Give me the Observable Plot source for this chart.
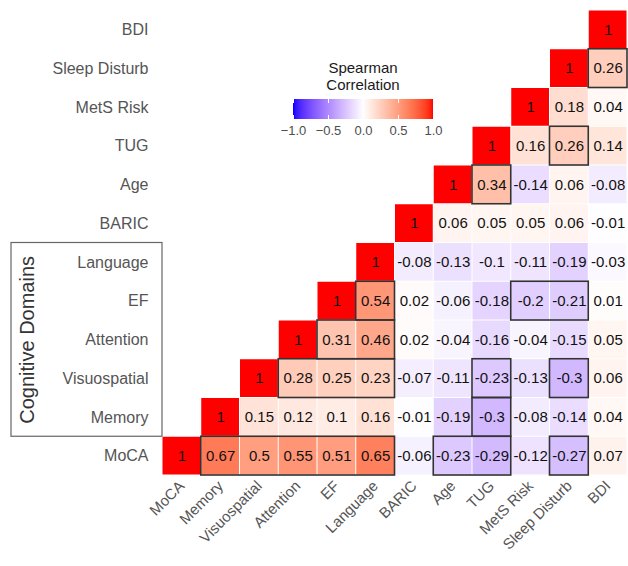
<!DOCTYPE html>
<html><head><meta charset="utf-8">
<script src="https://cdn.jsdelivr.net/npm/d3@7"></script>
<script src="https://cdn.jsdelivr.net/npm/@observablehq/plot@0.6"></script>
<style>
body{margin:0;background:#fff;}
#wrap{position:relative;width:628px;height:566px;font-family:"Liberation Sans",Arial,sans-serif;}
#ttl{position:absolute;left:263px;top:59px;width:200px;text-align:center;font-size:15px;line-height:17px;color:#1a1a1a;}
#lgbox{position:absolute;left:293px;top:99px;}
#lgbox svg text{font-size:13px;fill:#4d4d4d;font-family:"Liberation Sans",Arial,sans-serif;}
#lgbox svg .tick line{stroke:#fff;stroke-dasharray:4 12 4 100;}
</style></head><body>
<div id="wrap"><div id="ttl">Spearman<br>Correlation</div><div id="lgbox"></div></div>
<script>
const vars = ["MoCA","Memory","Visuospatial","Attention","EF","Language","BARIC","Age","TUG","MetS Risk","Sleep Disturb","BDI"];
// each row: correlations from the diagonal cell rightwards
const rowMoCA = [1,0.67,0.5,0.55,0.51,0.65,-0.06,-0.23,-0.29,-0.12,-0.27,0.07];
const rowMemory = [1,0.15,0.12,0.1,0.16,-0.01,-0.19,-0.3,-0.08,-0.14,0.04];
const rowVisuospatial = [1,0.28,0.25,0.23,-0.07,-0.11,-0.23,-0.13,-0.3,0.06];
const rowAttention = [1,0.31,0.46,0.02,-0.04,-0.16,-0.04,-0.15,0.05];
const rowEF = [1,0.54,0.02,-0.06,-0.18,-0.2,-0.21,0.01];
const rowLanguage = [1,-0.08,-0.13,-0.1,-0.11,-0.19,-0.03];
const rowBARIC = [1,0.06,0.05,0.05,0.06,-0.01];
const rowAge = [1,0.34,-0.14,0.06,-0.08];
const rowTUG = [1,0.16,0.26,0.14];
const rowMetS = [1,0.18,0.04];
const rowSleep = [1,0.26];
const rowBDI = [1];
// significant blocks: [row variable, first column, last column]
const sigBoxes = [
 ["MoCA","Memory","Language"],["MoCA","Age","TUG"],["MoCA","Sleep Disturb","Sleep Disturb"],
 ["Memory","TUG","TUG"],
 ["Visuospatial","Attention","Language"],["Visuospatial","TUG","TUG"],["Visuospatial","Sleep Disturb","Sleep Disturb"],
 ["Attention","EF","Language"],
 ["EF","Language","Language"],["EF","MetS Risk","Sleep Disturb"],
 ["Age","TUG","TUG"],["TUG","Sleep Disturb","Sleep Disturb"],["Sleep Disturb","BDI","BDI"]
];
const cognitiveDomains = ["Memory","Visuospatial","Attention","EF","Language"];
const groupLabel = "Cognitive Domains";
const legendTicks = [-1,-0.5,0,0.5,1];

const allRows = [rowMoCA,rowMemory,rowVisuospatial,rowAttention,rowEF,rowLanguage,rowBARIC,rowAge,rowTUG,rowMetS,rowSleep,rowBDI];
const cells = [];
allRows.forEach((row, r) => row.forEach((v, k) => cells.push({r, c: r + k, v})));
const idx = name => vars.indexOf(name);
const boxes = sigBoxes.map(([row, a, b]) => ({r: idx(row), c1: idx(a), c2: idx(b) + 1}));
const cogIdx = cognitiveDomains.map(idx);
const group = [{y1: d3.min(cogIdx), y2: d3.max(cogIdx) + 1, label: groupLabel}];
const font = '"Liberation Sans",Arial,sans-serif';
const ticks = vars.map((_, i) => i + 0.5);

const plot = Plot.plot({
  width: 628, height: 566,
  marginTop: 10, marginLeft: 162, marginRight: 1, marginBottom: 91,
  style: {fontFamily: font, background: "transparent", overflow: "visible"},
  x: {domain: [0, 12], axis: null},
  y: {domain: [0, 12], axis: null},
  color: {type: "linear", domain: [-1, 0, 1], range: ["blue", "white", "red"], interpolate: "lab"},
  marks: [
    Plot.rect(cells, {x1: "c", x2: d => d.c + 1, y1: "r", y2: d => d.r + 1, fill: "v", inset: 0.5}),
    Plot.text(cells, {x: d => d.c + 0.5, y: d => d.r + 0.5, text: d => String(d.v), fontSize: 15, fill: "#111"}),
    Plot.rect(boxes, {x1: "c1", x2: "c2", y1: "r", y2: d => d.r + 1, fill: "none", stroke: "#333", strokeWidth: 1.6}),
    Plot.axisX({ticks, tickFormat: t => vars[Math.floor(t)], tickSize: 0, tickPadding: 8, tickRotate: -45, fontSize: 15, color: "#555", label: null}),
    Plot.axisY({ticks, tickFormat: t => vars[Math.floor(t)], tickSize: 0, tickPadding: 14, fontSize: 16, color: "#555", label: null}),
    Plot.rect(group, {x1: 0, x2: 0, y1: "y1", y2: "y2", insetLeft: -151, fill: "none", stroke: "#666", strokeWidth: 1.2}),
    Plot.text(group, {x: 0, y: d => (d.y1 + d.y2) / 2, text: "label", rotate: -90, dx: -135, fontSize: 20, fill: "#333"})
  ]
});
const wrap = document.getElementById("wrap");
wrap.insertBefore(plot, wrap.firstChild);

const lg = plot.legend("color", {
  width: 140, height: 38, marginTop: 0, marginBottom: 18, marginLeft: 0, marginRight: 0,
  ticks: legendTicks, tickFormat: d3.format(".1f"), tickSize: 4, label: null
});
lg.style.overflow = "visible";
document.getElementById("lgbox").appendChild(lg);
</script>
</body></html>
